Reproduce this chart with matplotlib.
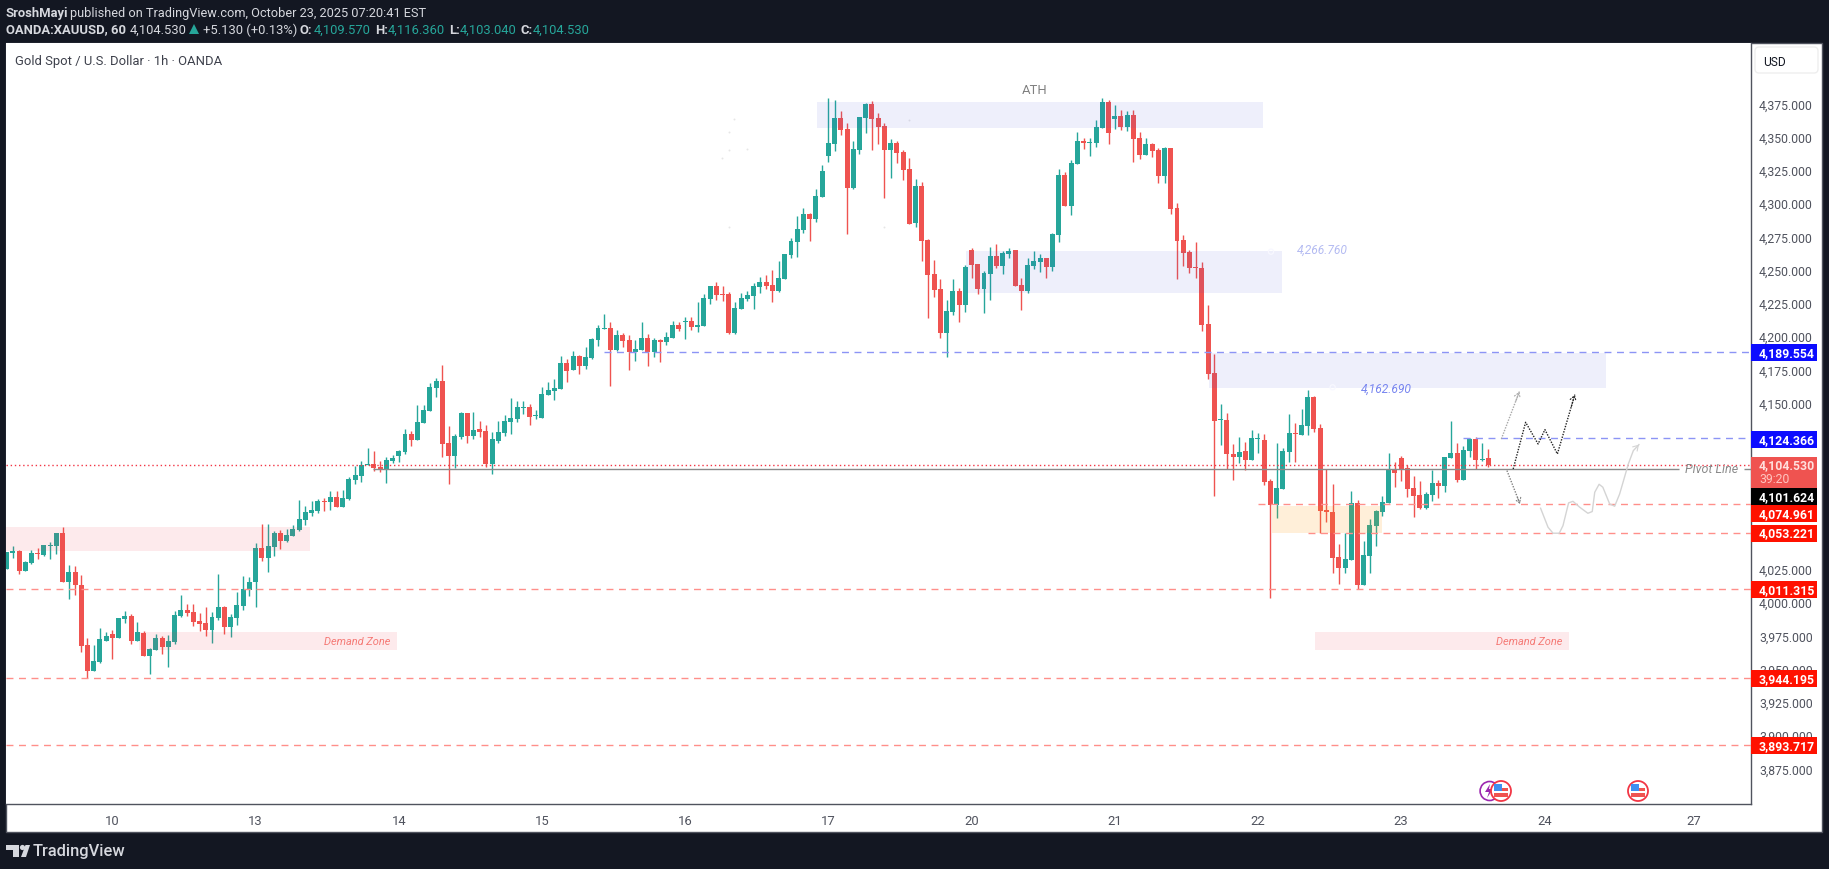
"""Gold Spot / U.S. Dollar 1h chart, TradingView snapshot look."""

import matplotlib

matplotlib.use("Agg")
import matplotlib.pyplot as plt
from matplotlib.patches import Circle, FancyBboxPatch, Polygon, Rectangle

plt.rcParams["font.family"] = ["Roboto", "DejaVu Sans"]

# ---------------------------------------------------------------------------
# Data
# ---------------------------------------------------------------------------

OPENS = [
    4026.2, 4038.2, 4039.7, 4024.7, 4030.7, 4038.2, 4036.7, 4043.5, 4043.5, 4053.3,
    4016.6, 4023.9, 4014.1, 3969.0, 3949.7, 3956.2, 3972.0, 3977.2, 3974.2, 3988.5,
    3990.8, 3972.0, 3978.0, 3960.7, 3965.2, 3974.2, 3967.5, 3971.2, 3990.8, 3995.3,
    3993.8, 3987.0, 3985.5, 3980.2, 3989.3, 3997.5, 3982.5, 3989.3, 3998.3, 4010.3,
    4016.6, 4042.0, 4034.5, 4042.7, 4053.3, 4047.3, 4051.0, 4055.5, 4063.0, 4068.3,
    4069.8, 4077.3, 4076.6, 4080.3, 4072.8, 4078.8, 4093.1, 4096.1, 4104.4, 4105.1,
    4102.9, 4100.6, 4107.4, 4111.1, 4114.2, 4127.7, 4123.2, 4135.9, 4145.0, 4162.3,
    4167.5, 4120.9, 4111.1, 4125.4, 4143.5, 4126.2, 4131.4, 4129.9, 4105.1, 4122.4,
    4128.4, 4136.7, 4139.0, 4147.2, 4148.0, 4141.2, 4139.7, 4157.0, 4160.0, 4161.5,
    4181.0, 4175.8, 4186.3, 4178.8, 4184.8, 4198.4, 4206.6, 4207.4, 4190.8, 4202.1,
    4198.3, 4189.3, 4190.8, 4199.8, 4189.3, 4198.3, 4196.8, 4199.8, 4209.6, 4212.0,
    4212.6, 4208.1, 4209.0, 4229.2, 4238.9, 4232.9, 4232.9, 4203.6, 4221.7, 4229.2,
    4231.4, 4238.2, 4241.9, 4239.7, 4235.2, 4244.2, 4262.3, 4272.0, 4281.0, 4293.0,
    4289.3, 4305.8, 4336.7, 4345.7, 4365.2, 4357.0, 4312.6, 4341.2, 4365.2, 4375.8,
    4365.2, 4359.2, 4341.2, 4346.4, 4339.7, 4326.9, 4286.3, 4314.1, 4273.5, 4248.0,
    4236.7, 4203.6, 4219.4, 4235.2, 4224.7, 4266.0, 4255.5, 4236.7, 4248.0, 4261.5,
    4254.0, 4263.0, 4266.0, 4239.7, 4235.2, 4254.0, 4257.0, 4260.0, 4253.2, 4277.3,
    4322.4, 4299.1, 4330.7, 4347.9, 4346.4, 4346.4, 4357.7, 4377.3, 4364.5, 4366.7,
    4358.5, 4367.5, 4350.2, 4337.4, 4345.7, 4341.2, 4321.6, 4342.7, 4297.6, 4273.5,
    4264.5, 4253.2, 4252.5, 4210.3, 4173.5, 4137.9, 4137.9, 4112.6, 4110.4, 4114.9,
    4108.1, 4123.9, 4123.1, 4092.1, 4074.0, 4086.3, 4114.1, 4128.4, 4126.9, 4133.7,
    4155.5, 4132.2, 4070.5, 4069.0, 4035.2, 4026.9, 4033.0, 4075.8, 4014.1, 4036.0,
    4058.5, 4069.0, 4075.8, 4101.3, 4109.6, 4102.1, 4087.0, 4081.8, 4072.0, 4081.8,
    4090.8, 4088.6, 4109.6, 4113.4, 4093.1, 4114.9, 4123.9, 4108.1, 4109.57,
]
HIGHS = [
    4039.0, 4043.5, 4040.5, 4032.2, 4040.5, 4042.0, 4044.2, 4046.5, 4053.3, 4057.8,
    4029.2, 4028.4, 4021.7, 3974.0, 3969.0, 3981.5, 3978.8, 3980.2, 3989.3, 3994.5,
    3992.3, 3986.3, 3979.5, 3966.7, 3977.2, 3975.7, 3976.5, 3994.5, 4006.6, 3999.8,
    3999.8, 3993.0, 3997.5, 3993.8, 4022.4, 3998.3, 3992.3, 4008.8, 4020.9, 4020.2,
    4045.7, 4060.0, 4060.0, 4054.8, 4055.5, 4056.3, 4059.3, 4078.0, 4073.6, 4077.3,
    4078.8, 4079.6, 4084.8, 4084.8, 4085.6, 4095.4, 4103.6, 4107.4, 4117.2, 4114.9,
    4107.4, 4110.4, 4111.9, 4115.7, 4131.4, 4129.9, 4149.5, 4149.5, 4166.0, 4169.8,
    4179.6, 4133.7, 4127.7, 4144.2, 4143.5, 4144.2, 4137.5, 4134.5, 4129.2, 4137.5,
    4142.0, 4154.8, 4152.5, 4152.5, 4150.2, 4145.7, 4163.0, 4166.8, 4169.0, 4186.3,
    4184.0, 4190.0, 4187.0, 4193.0, 4199.9, 4209.6, 4217.9, 4211.9, 4205.9, 4203.6,
    4202.1, 4198.3, 4211.9, 4202.9, 4199.8, 4199.0, 4204.4, 4212.6, 4211.9, 4215.6,
    4215.6, 4226.9, 4232.9, 4238.9, 4241.9, 4238.9, 4234.4, 4226.9, 4233.7, 4235.2,
    4241.2, 4245.7, 4247.2, 4250.9, 4257.7, 4263.0, 4275.0, 4291.6, 4297.6, 4293.8,
    4311.9, 4329.9, 4380.3, 4378.8, 4370.5, 4361.5, 4348.0, 4366.0, 4376.5, 4378.0,
    4369.0, 4361.5, 4349.5, 4347.9, 4341.2, 4335.2, 4319.4, 4317.1, 4274.3, 4258.5,
    4244.2, 4228.4, 4244.2, 4237.4, 4254.7, 4267.5, 4255.5, 4250.2, 4268.3, 4270.5,
    4265.3, 4267.5, 4266.0, 4244.9, 4260.0, 4265.3, 4263.0, 4260.0, 4278.8, 4326.9,
    4324.6, 4333.7, 4354.7, 4350.2, 4350.2, 4363.7, 4380.3, 4378.8, 4375.0, 4371.3,
    4370.5, 4371.3, 4354.7, 4350.2, 4346.4, 4342.7, 4343.4, 4342.7, 4301.3, 4277.3,
    4266.0, 4272.0, 4257.0, 4224.6, 4187.7, 4150.2, 4143.4, 4120.1, 4125.4, 4121.6,
    4130.7, 4128.4, 4127.6, 4093.8, 4120.9, 4117.1, 4142.7, 4135.9, 4146.4, 4160.7,
    4156.2, 4135.2, 4101.3, 4090.1, 4044.9, 4053.2, 4084.8, 4078.0, 4047.2, 4063.7,
    4070.5, 4081.0, 4113.4, 4106.6, 4111.1, 4104.3, 4096.1, 4092.3, 4084.0, 4100.6,
    4093.1, 4110.4, 4137.4, 4120.9, 4118.6, 4124.6, 4125.4, 4120.9, 4116.36,
]
LOWS = [
    4026.0, 4034.5, 4022.4, 4024.5, 4030.0, 4033.7, 4036.0, 4033.7, 4037.5, 4016.0,
    4003.6, 4006.6, 3964.0, 3943.9, 3949.7, 3955.4, 3972.0, 3958.5, 3974.0, 3985.5,
    3969.7, 3972.0, 3960.7, 3947.2, 3965.2, 3962.2, 3952.4, 3969.7, 3990.0, 3990.8,
    3983.3, 3979.5, 3975.7, 3970.5, 3987.8, 3977.2, 3975.0, 3984.0, 3995.3, 4005.8,
    3997.5, 4032.2, 4024.0, 4036.0, 4041.2, 4046.5, 4051.0, 4054.8, 4059.3, 4066.0,
    4068.3, 4069.8, 4070.5, 4072.8, 4072.8, 4078.0, 4090.1, 4091.6, 4104.4, 4099.9,
    4099.1, 4090.9, 4105.9, 4106.6, 4112.7, 4118.7, 4123.2, 4135.9, 4145.0, 4155.5,
    4110.4, 4090.1, 4102.1, 4124.0, 4120.9, 4123.9, 4125.4, 4102.9, 4097.6, 4120.9,
    4126.2, 4127.7, 4136.7, 4142.7, 4134.5, 4139.0, 4139.7, 4157.0, 4153.2, 4161.5,
    4166.8, 4175.8, 4172.8, 4176.6, 4184.0, 4193.8, 4206.6, 4163.8, 4190.0, 4193.1,
    4175.8, 4182.6, 4190.8, 4178.8, 4185.6, 4181.8, 4194.6, 4199.8, 4205.1, 4199.0,
    4205.9, 4204.4, 4209.0, 4225.4, 4228.4, 4227.7, 4202.9, 4202.9, 4221.7, 4227.7,
    4221.7, 4233.7, 4237.0, 4226.9, 4234.4, 4244.2, 4260.0, 4260.7, 4278.8, 4272.8,
    4287.0, 4305.8, 4332.2, 4340.4, 4352.5, 4278.0, 4311.9, 4338.2, 4354.0, 4341.2,
    4345.7, 4305.1, 4320.1, 4331.4, 4318.6, 4285.6, 4283.3, 4257.7, 4214.9, 4230.7,
    4199.8, 4185.6, 4217.1, 4211.9, 4219.4, 4244.9, 4232.9, 4218.6, 4228.4, 4252.5,
    4248.0, 4260.0, 4238.9, 4220.9, 4233.7, 4251.7, 4249.5, 4245.0, 4250.2, 4272.0,
    4299.1, 4292.3, 4330.7, 4341.9, 4336.7, 4343.4, 4357.7, 4345.7, 4357.0, 4356.2,
    4355.5, 4332.2, 4334.4, 4337.4, 4335.9, 4316.4, 4316.4, 4293.0, 4244.2, 4254.0,
    4248.7, 4244.9, 4205.1, 4169.0, 4080.7, 4119.4, 4101.3, 4093.1, 4105.9, 4100.6,
    4108.1, 4113.4, 4089.3, 4004.3, 4064.5, 4086.3, 4106.6, 4106.6, 4126.9, 4126.9,
    4129.2, 4053.2, 4061.5, 4023.1, 4014.9, 4023.1, 4033.0, 4011.1, 4014.1, 4023.1,
    4043.5, 4066.0, 4075.8, 4087.8, 4092.3, 4080.3, 4065.3, 4071.3, 4071.3, 4077.3,
    4079.5, 4084.0, 4109.6, 4091.6, 4093.1, 4110.4, 4101.3, 4107.4, 4103.04,
]
CLOSES = [
    4038.7, 4039.7, 4024.7, 4031.5, 4038.2, 4037.5, 4044.2, 4044.2, 4053.3, 4016.6,
    4023.9, 4013.7, 3968.5, 3949.7, 3957.0, 3973.5, 3975.7, 3974.2, 3989.3, 3990.8,
    3972.0, 3978.8, 3960.7, 3966.0, 3974.2, 3967.5, 3972.0, 3991.5, 3995.3, 3993.0,
    3986.3, 3984.8, 3980.2, 3990.0, 3997.5, 3982.5, 3990.0, 3999.0, 4011.0, 4016.3,
    4042.0, 4034.5, 4043.5, 4053.3, 4047.3, 4051.8, 4056.3, 4063.8, 4069.0, 4070.5,
    4077.3, 4076.6, 4080.3, 4072.8, 4079.6, 4093.9, 4096.9, 4104.4, 4105.1, 4102.1,
    4100.6, 4108.1, 4109.6, 4114.9, 4127.7, 4123.2, 4136.7, 4145.7, 4163.0, 4167.5,
    4120.2, 4111.1, 4126.2, 4143.5, 4126.2, 4130.7, 4129.2, 4105.1, 4123.9, 4129.2,
    4137.5, 4139.7, 4148.0, 4148.0, 4140.5, 4142.0, 4157.8, 4160.8, 4162.3, 4181.0,
    4175.0, 4186.3, 4178.8, 4185.6, 4199.0, 4207.4, 4207.4, 4191.0, 4202.1, 4197.6,
    4189.3, 4191.6, 4199.8, 4189.3, 4198.3, 4196.8, 4200.6, 4209.6, 4206.6, 4212.6,
    4208.1, 4209.6, 4229.9, 4238.9, 4232.2, 4232.2, 4203.6, 4222.4, 4229.9, 4232.2,
    4238.9, 4241.9, 4238.9, 4235.2, 4244.9, 4263.0, 4272.8, 4281.8, 4293.0, 4289.3,
    4306.6, 4325.4, 4346.4, 4365.2, 4356.2, 4312.6, 4341.9, 4366.0, 4375.8, 4364.5,
    4358.5, 4341.2, 4346.4, 4338.9, 4326.2, 4285.6, 4314.1, 4272.8, 4247.2, 4236.0,
    4203.6, 4220.1, 4235.2, 4224.7, 4253.2, 4254.7, 4236.7, 4248.7, 4261.5, 4254.0,
    4263.8, 4265.3, 4238.9, 4235.2, 4254.7, 4257.7, 4260.0, 4253.2, 4278.0, 4322.4,
    4299.1, 4331.4, 4347.9, 4346.4, 4347.2, 4358.5, 4377.3, 4354.0, 4366.7, 4358.5,
    4367.5, 4349.5, 4337.4, 4345.7, 4340.4, 4321.6, 4342.7, 4296.8, 4272.8, 4263.8,
    4252.5, 4252.5, 4209.6, 4172.7, 4137.4, 4137.9, 4112.6, 4110.4, 4114.1, 4108.1,
    4124.6, 4123.9, 4091.6, 4074.0, 4087.0, 4114.9, 4128.4, 4127.7, 4134.4, 4155.5,
    4131.4, 4069.8, 4069.0, 4034.4, 4026.9, 4033.7, 4075.8, 4014.1, 4036.7, 4059.2,
    4069.8, 4076.5, 4101.3, 4098.3, 4101.3, 4086.3, 4081.0, 4072.0, 4082.5, 4090.8,
    4088.6, 4110.4, 4113.4, 4093.1, 4115.6, 4123.9, 4108.1, 4108.9, 4104.53,
]

# first bar of each session on the time axis
DAY_BARS = [17, 40, 63, 86, 109, 132, 155, 178, 201, 224, 247, 271]
DAY_LABELS = ["10", "13", "14", "15", "16", "17", "20", "21", "22", "23", "24", "27"]

# ticks the price tags do not cover
PRICE_TICKS = [
    3875, 3900, 3925, 3950, 3975, 4000, 4025, 4150, 4175, 4200,
    4225, 4250, 4275, 4300, 4325, 4350, 4375,
]

# zones: (first bar, last bar, low, high)
BLUE_ZONES = [
    (130.2, 201.8, 4357.7, 4377.3),
    (154.1, 204.8, 4233.9, 4265.3),
    (193.1, 256.9, 4162.0, 4188.8),
]
PINK_ZONES = [
    (-0.1, 48.7, 4039.7, 4057.8),
    (21.2, 62.7, 3965.4, 3979.0),
    (210.2, 251.0, 3965.4, 3979.0),
]
ORANGE_ZONE = (203.2, 220.9, 4053.2, 4073.8)

# levels: (first bar, price)
BLUE_LEVELS = [(96, 4189.554), (234, 4124.366)]
RED_LEVELS = [
    (201, 4074.961),
    (209, 4053.221),
    (-0.1, 4011.315),
    (-0.1, 3944.195),
    (-0.1, 3893.717),
]
PIVOT_PRICE = 4101.624
LAST_PRICE = 4104.53

# hand drawn projections
BLACK_BARS = [242.0, 244.0, 246.0, 247.1, 249.1, 251.9]
BLACK_PRICES = [4101.3, 4136.4, 4120.1, 4130.9, 4112.6, 4157.2]
GREY_UP_BARS = [240.1, 243.0]
GREY_UP_PRICES = [4123.9, 4159.5]
GREY_DOWN_BARS = [241.0, 243.1]
GREY_DOWN_PRICES = [4100.1, 4075.0]
CURVE_BARS = [246.4, 247.6, 248.4, 249.4, 250.0, 250.9, 251.6, 252.7, 254.0, 254.7,
              255.1, 255.8, 256.4, 257.5, 258.3, 259.1, 260.5, 261.3, 262.2]
CURVE_PRICES = [4071.8, 4057.5, 4053.0, 4053.0, 4058.7, 4075.8, 4077.0, 4072.5, 4068.0, 4069.3,
                4083.8, 4089.8, 4087.6, 4075.0, 4073.3, 4082.5, 4105.1, 4115.1, 4119.6]

# faint specks left from erased drawings
SPECK_BARS = [116.9, 116.0, 116.0, 118.9, 114.9, 116.0, 141.0, 145.0]
SPECK_PRICES = [4364.5, 4355.0, 4341.4, 4341.7, 4335.2, 4283.1, 4283.1, 4364.0]

# right hand price tags: (text, centre y px, colour)
PRICE_TAGS = [
    ("4,189.554", 353.3, "#0c0cff"),
    ("4,124.366", 440.3, "#0c0cff"),
    ("4,101.624", 497.3, "#000000"),
    ("4,074.961", 514.3, "#ff1100"),
    ("4,053.221", 534.0, "#ff1100"),
    ("4,011.315", 590.3, "#ff1100"),
    ("3,944.195", 679.3, "#ff1100"),
    ("3,893.717", 746.3, "#ff1100"),
]

UP = "#26a69a"
DOWN = "#ef5350"
DARK = "#131722"
EDGE = "#50535e"
TEXT = "#50535e"

PX = 0.72  # points per pixel at dpi 100

# ---------------------------------------------------------------------------
# Figure
# ---------------------------------------------------------------------------

fig = plt.figure(figsize=(18.29, 8.70), dpi=100, facecolor=DARK)

chrome = fig.add_axes([0, 0, 1, 1], zorder=1)
chrome.set_xlim(0, 1829)
chrome.set_ylim(870, 0)
chrome.axis("off")
chrome.add_patch(Rectangle((6, 44), 1816, 789, fc="white", ec=EDGE, lw=1.0))

ax = fig.add_axes([6 / 1829, 1 - 805 / 870, 1745 / 1829, 761 / 870], zorder=2)
ax.set_xlim(-0.09, 280.2)
ax.set_ylim(3849.4, 4421.6)
for side in ("top", "left"):
    ax.spines[side].set_visible(False)
for side in ("bottom", "right"):
    ax.spines[side].set_color(EDGE)
    ax.spines[side].set_linewidth(1.0)
ax.set_yticks([])
ax.set_xticks(DAY_BARS)
ax.set_xticklabels(DAY_LABELS, fontsize=13 * PX, color=TEXT)
ax.tick_params(axis="x", length=0, pad=7)

# candles
bars = range(len(OPENS))
colors = [UP if c >= o else DOWN for o, c in zip(OPENS, CLOSES)]
ax.vlines(bars, LOWS, HIGHS, colors=colors, linewidth=1.0, zorder=3)
bottoms = [min(o, c) for o, c in zip(OPENS, CLOSES)]
heights = [max(abs(c - o), 0.8) for o, c in zip(OPENS, CLOSES)]
ax.bar(bars, heights, bottom=bottoms, width=0.8, color=colors, linewidth=0, zorder=3)

# zones sit over the candles
for x0, x1, low, high in BLUE_ZONES:
    ax.add_patch(Rectangle((x0, low), x1 - x0, high - low, fc="#3d4ddb", alpha=0.085, lw=0, zorder=4))
for x0, x1, low, high in PINK_ZONES:
    ax.add_patch(Rectangle((x0, low), x1 - x0, high - low, fc="#f23645", alpha=0.1, lw=0, zorder=4))
x0, x1, low, high = ORANGE_ZONE
ax.add_patch(Rectangle((x0, low), x1 - x0, high - low, fc="#ff9800", alpha=0.15, lw=0, zorder=4))

# levels
for start, price in BLUE_LEVELS:
    ax.hlines(price, start, 280.2, colors="#8c94f5", linewidth=1.0, linestyles=(0, (5, 4)), zorder=5)
for start, price in RED_LEVELS:
    ax.hlines(price, start, 280.2, colors="#ff8f8a", linewidth=1.0, linestyles=(0, (5, 4)), zorder=5)
ax.hlines(PIVOT_PRICE, 58.9, 268.7, colors="#8a8a8a", linewidth=1.0, zorder=5)
ax.hlines(PIVOT_PRICE, 279.0, 280.2, colors="#8a8a8a", linewidth=1.0, zorder=5)
ax.hlines(LAST_PRICE, -0.1, 280.2, colors="#f23645", linewidth=1.0, linestyles=(0, (1, 2)), zorder=5)

# projections
ax.plot(BLACK_BARS, BLACK_PRICES, color="#222222", lw=1.0, ls=(0, (1, 1)), zorder=6)
ax.plot(GREY_UP_BARS, GREY_UP_PRICES, color="#a8a8a8", lw=1.0, ls=(0, (1, 1)), zorder=6)
ax.plot(GREY_DOWN_BARS, GREY_DOWN_PRICES, color="#808080", lw=1.0, ls=(0, (1, 1)), zorder=6)
ax.plot(CURVE_BARS, CURVE_PRICES, color="#d4d4d4", lw=1.0, zorder=6)
ax.scatter(SPECK_BARS, SPECK_PRICES, s=2, color="#e6e6e6", linewidths=0, zorder=2)
ax.scatter([203.1, 213.0], [4264.7, 4162.7], s=14, facecolors="none", edgecolors="#f8f8ff", linewidths=0.9, zorder=6)


def arrow_head(xs, ys, color, style):
    """Open head at the end of a drawn path."""
    ax.annotate(
        "",
        xy=(xs[-1], ys[-1]),
        xytext=(xs[-2] + 0.8 * (xs[-1] - xs[-2]), ys[-2] + 0.8 * (ys[-1] - ys[-2])),
        arrowprops=dict(
            arrowstyle="->,head_length=0.35,head_width=0.22",
            color=color, lw=0.8, ls=style, shrinkA=0, shrinkB=0,
        ),
        zorder=6,
    )


arrow_head(BLACK_BARS[-2:], BLACK_PRICES[-2:], "#222222", ":")
arrow_head(GREY_UP_BARS, GREY_UP_PRICES, "#a8a8a8", ":")
arrow_head(GREY_DOWN_BARS, GREY_DOWN_PRICES, "#808080", ":")
arrow_head(CURVE_BARS[-2:], CURVE_PRICES[-2:], "#d4d4d4", "-")

# chart annotations
ax.text(165.1, 4387.0, "ATH", color="#808080", fontsize=13 * PX, ha="center", va="center", zorder=7)
ax.text(207.2, 4266.76, "4,266.760", color="#b4bbf2", fontsize=12 * PX, style="italic", va="center", zorder=7)
ax.text(217.5, 4162.2, "4,162.690", color="#7886f0", fontsize=12 * PX, style="italic", va="center", zorder=7)
ax.text(56.3, 3972.0, "Demand Zone", color="#f57a76", fontsize=11 * PX, style="italic", ha="center", va="center", zorder=7)
ax.text(244.5, 3972.0, "Demand Zone", color="#f57a76", fontsize=11 * PX, style="italic", ha="center", va="center", zorder=7)
ax.text(273.9, PIVOT_PRICE, "Pivot Line", color="#8a8a8a", fontsize=12.5 * PX, style="italic", ha="center", va="center", zorder=7)

# price axis text
for tick in PRICE_TICKS:
    y = 106 + (4375 - tick) * 1.33
    chrome.text(1759, y, f"{tick:,.3f}", color=TEXT, fontsize=12.3 * PX, va="center", ha="left", zorder=3)

chrome.add_patch(FancyBboxPatch((1755, 48), 63, 26, boxstyle="round,pad=0,rounding_size=4", fc="white", ec="#eeeeee", lw=1, zorder=4))
chrome.text(1763, 62, "USD", color="#131722", fontsize=12 * PX, va="center", zorder=5)

top = fig.add_axes([0, 0, 1, 1], zorder=3)
top.set_xlim(0, 1829)
top.set_ylim(870, 0)
top.axis("off")
for label, y, color in PRICE_TAGS:
    top.add_patch(Rectangle((1751, y - 8.5), 66, 17, fc=color, lw=0))
    top.text(1759, y, label, color="white", fontsize=12.3 * PX, fontweight="bold", va="center")
top.add_patch(Rectangle((1751, 458.3), 66, 30.5, fc=DOWN, lw=0))
top.text(1759, 466, "4,104.530", color="#ffdfdc", fontsize=12.3 * PX, fontweight="bold", va="center")
top.text(1759, 480, "39:20", color="#ffc4bf", fontsize=12.3 * PX, va="center")

# event badges
for cx in (1501, 1638):
    top.add_patch(Circle((cx, 792), 10, fc="white", ec="#f23645", lw=1.3, zorder=3))
    top.add_patch(Rectangle((cx - 7, 794), 14, 4, fc="#ef5350", lw=0, zorder=4))
    top.add_patch(Rectangle((cx - 7, 789), 14, 3, fc="#ef5350", lw=0, zorder=4))
    top.add_patch(Rectangle((cx - 7, 785), 8, 7, fc="#3f8ff0", lw=0, zorder=4))
top.add_patch(Circle((1489.6, 792), 9.5, fc="white", ec="#9c27b0", lw=1.2, zorder=2))
top.add_patch(Polygon([(1490, 785), (1485, 793), (1489, 793), (1487, 799), (1493, 790), (1489, 790)], fc="#9c27b0", lw=0, zorder=2))

# header
LIGHT = "#d6d8de"
top.text(6, 13, "SroshMayi", color=LIGHT, fontsize=13 * PX, fontweight="bold", va="center")
byline = top.text(70.4, 13, "published on TradingView.com, October 23, 2025 07:20:41 EST", color=LIGHT, fontsize=13 * PX, va="center")
# the snapshot font is narrower than Roboto here, so fit the line to its real width
byline_width = byline.get_window_extent(fig.canvas.get_renderer()).width
byline.set_fontsize(13 * PX * 355 / byline_width)
top.text(6, 30, "OANDA:XAUUSD, 60", color=LIGHT, fontsize=13 * PX, fontweight="bold", va="center")
top.text(130, 30, "4,104.530", color=LIGHT, fontsize=13 * PX, va="center")
top.add_patch(Polygon([(189, 35), (199, 35), (194, 25)], fc=UP, lw=0))
top.text(203, 30, "+5.130 (+0.13%)", color=LIGHT, fontsize=13 * PX, va="center")
for name, value, x_name, x_value in (
    ("O:", "4,109.570", 300, 314),
    ("H:", "4,116.360", 375.5, 388),
    ("L:", "4,103.040", 449.4, 460),
    ("C:", "4,104.530", 520.6, 533),
):
    top.text(x_name, 30, name, color=LIGHT, fontsize=13 * PX, fontweight="bold", va="center")
    top.text(x_value, 30, value, color=UP, fontsize=13 * PX, va="center")
top.text(15, 61, "Gold Spot / U.S. Dollar · 1h · OANDA", color="#3d404b", fontsize=13 * PX, va="center")

# footer logo
top.add_patch(Polygon([(6, 846), (19, 846), (19, 858), (13, 858), (13, 851), (6, 851)], fc=LIGHT, lw=0))
top.add_patch(Circle((22.5, 848.5), 2.6, fc=LIGHT, lw=0))
top.add_patch(Polygon([(21, 858), (25.5, 846), (30, 846), (26, 858)], fc=LIGHT, lw=0))
top.text(33, 852, "TradingView", color=LIGHT, fontsize=16.5 * PX, fontweight="medium", va="center")

fig.savefig("out.png", dpi=100, facecolor=DARK)
plt.close(fig)
